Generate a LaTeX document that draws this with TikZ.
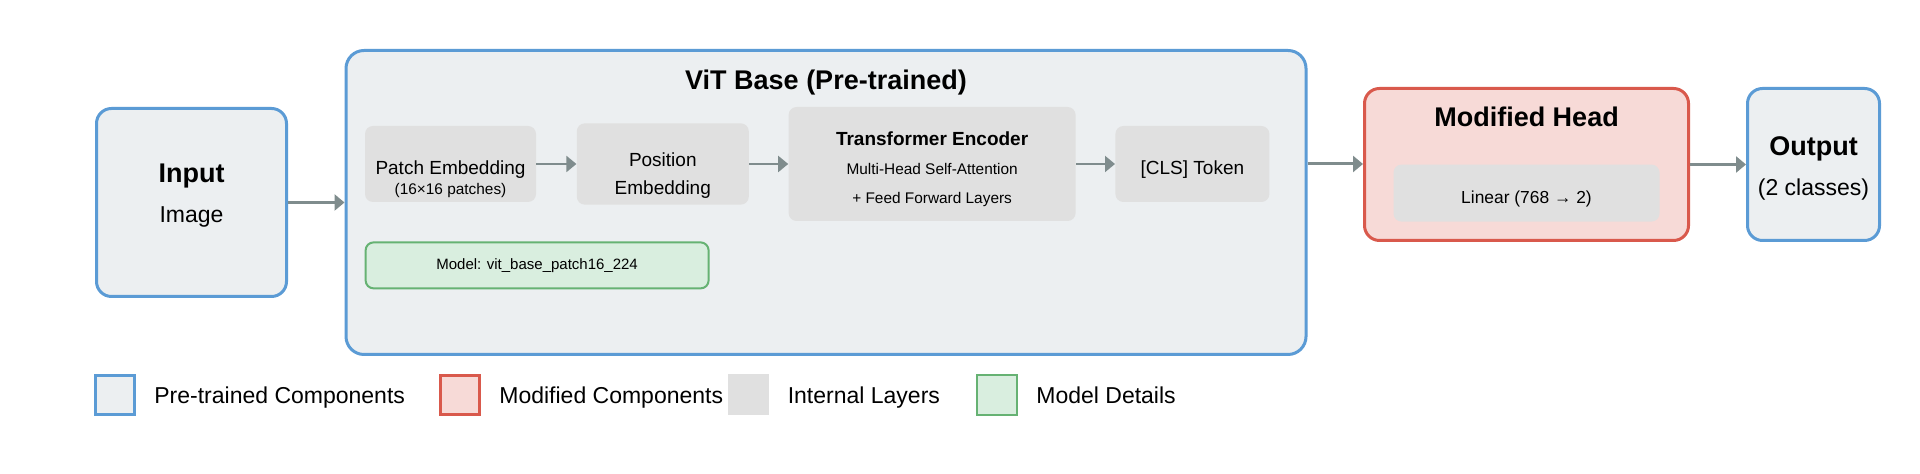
\documentclass[tikz,border=0pt]{standalone}
\usepackage{fontspec}
\setmainfont{Liberation Sans}
\usetikzlibrary{arrows.meta,positioning}

\definecolor{vitblue}{HTML}{5B9BD5}
\definecolor{vitfill}{HTML}{ECEFF1}
\definecolor{headred}{HTML}{D9594C}
\definecolor{headfill}{HTML}{F7DAD7}
\definecolor{layergray}{HTML}{E0E0E0}
\definecolor{detailgreen}{HTML}{66B273}
\definecolor{detailfill}{HTML}{D9EEDF}
\definecolor{arrowgray}{HTML}{7F8C8D}

\tikzset{
  pretrained/.style={draw=vitblue, fill=vitfill, line width=1.5pt},
  modified/.style={draw=headred, fill=headfill, line width=1.5pt},
  internal/.style={fill=layergray},
  details/.style={draw=detailgreen, fill=detailfill, line width=1pt},
  layer/.style={internal, rounded corners=4pt, align=center, font=\fontsize{9.5}{14}\selectfont},
  title/.style={font=\bfseries\fontsize{13.5}{16}\selectfont},
  flow/.style={draw=arrowgray, line width=1.5pt, -{Triangle[length=5pt,width=8pt]}},
  subflow/.style={flow, line width=1pt},
  legendkey/.style={minimum size=19.5pt, inner sep=0pt},
  legendtext/.style={inner sep=0pt, text height=8.2pt, text depth=0pt, font=\fontsize{11.5}{14}\selectfont},
}

\begin{document}
\begin{tikzpicture}[x=1pt, y=1pt]
  \fill[white] (0,0) rectangle (960,237);
  % input and backbone
  \node[pretrained, rounded corners=7.5pt, minimum width=95pt, minimum height=94pt] (input) at (95.75,135.75) {};
  \node[align=center, font=\fontsize{11.5}{20}\selectfont] (inputtext) at ([yshift=3.3pt]input.center) {{\bfseries\fontsize{13.5}{20}\selectfont Input}\\Image};
  \node[pretrained, rounded corners=9pt, minimum width=480pt, minimum height=152pt] (vit) at (413,135.75) {};
  \node[title] (vittitle) at (413,195.8) {ViT Base (Pre-trained)};

  % internal layers
  \node[layer, minimum width=85.5pt, minimum height=38pt] (patch) at (225.25,155) {\rule{0pt}{12.4pt}Patch Embedding};
  \node[inner sep=0pt, font=\fontsize{7.7}{9}\selectfont] (patchsize) at ([yshift=-13.2pt]patch.center) {(16×16 patches)};
  \node[layer, right=20pt of patch, minimum width=86pt, minimum height=38pt] (posemb) {\rule{0pt}{18pt}Position\\Embedding};
  \node[layer, right=19.5pt of posemb, minimum width=143.5pt, minimum height=57pt, font=\fontsize{7.7}{14.5}\selectfont] (encoder) {{\bfseries\fontsize{9.5}{15}\selectfont\rule{0pt}{12.5pt}Transformer Encoder}\\Multi-Head Self-Attention\\+ Feed Forward Layers};
  \node[layer, right=19.5pt of encoder, minimum width=77pt, minimum height=38pt] (cls) {\rule{0pt}{12.4pt}[CLS] Token};
  \node[details, rounded corners=4pt, below=19.5pt of patch.south west, anchor=north west, minimum width=171.5pt, minimum height=23pt, font=\fontsize{7.5}{9}\selectfont] (model) {Model: vit\_base\_patch16\_224};

  \draw[subflow] (patch) -- (posemb);
  \draw[subflow] (posemb) -- (encoder);
  \draw[subflow] (encoder) -- (cls);

  % head and output
  \node[modified, rounded corners=7.5pt, minimum width=162pt, minimum height=76pt] (head) at (763.25,154.75) {};
  \node[title] (headtitle) at ([yshift=-15pt]head.north) {Modified Head};
  \node[layer, above=10pt of head.south, minimum width=133pt, minimum height=28.5pt, font=\fontsize{8.7}{10}\selectfont] (linear) {\rule{0pt}{12.4pt}Linear (768 → 2)};
  \node[pretrained, rounded corners=7.5pt, right=28pt of head, minimum width=66pt, minimum height=76pt, align=center, font=\fontsize{11.5}{20}\selectfont] (output) {{\bfseries\fontsize{13.5}{20}\selectfont\rule{0pt}{13pt}Output}\\(2 classes)};

  \draw[flow] (input) -- (vit);
  \draw[flow] (cls -| vit.east) -- (cls -| head.west);
  \draw[flow] (head) -- (output);

  % legend
  \node[pretrained, legendkey] (keypre) at (57.5,39.5) {};
  \node[legendtext, right=9pt of keypre] (keypretext) {Pre-trained Components};
  \node[modified, legendkey] (keymod) at (230,39.5) {};
  \node[legendtext, right=9pt of keymod] (keymodtext) {Modified Components};
  \node[internal, legendkey, minimum size=20.5pt] (keylayer) at (374.25,39.5) {};
  \node[legendtext, right=9pt of keylayer] (keylayertext) {Internal Layers};
  \node[details, legendkey, minimum size=20pt] (keydetail) at (498.5,39.5) {};
  \node[legendtext, right=9pt of keydetail] (keydetailtext) {Model Details};
\end{tikzpicture}
\end{document}
